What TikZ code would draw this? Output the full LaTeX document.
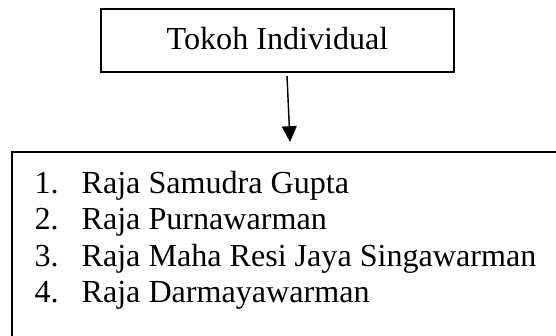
\documentclass[tikz,border=0pt]{standalone}
\usepackage{fontspec}
\setmainfont{Liberation Serif}
\usetikzlibrary{arrows.meta}
\begin{document}
\begin{tikzpicture}[x=0.38pt,y=-0.38pt,
  boxstyle/.style={draw,line width=0.65pt,rectangle,inner sep=0pt},
  itemstyle/.style={anchor=base west,inner sep=0pt,font=\fontsize{12.2pt}{14pt}\selectfont},
  arrowstyle/.style={line width=0.55pt,-{Triangle[length=6pt,width=5.6pt]}}]
\clip (0,0) rectangle (556,335);
\node[boxstyle,minimum width=134.1pt,minimum height=23.9pt,
      text height=6.46pt,text depth=0pt,font=\fontsize{12.2pt}{14pt}\selectfont]
  (title) at (277.5,40.5) {Tokoh Individual};
\node[boxstyle,minimum width=213.9pt,minimum height=75.2pt] (list) at (293.5,251) {};
\coordinate (a1) at (287,76);
\coordinate (a2) at (290,142);
\draw[arrowstyle] (a1) -- (a2);
\node[itemstyle] (i1) at (34,193) {\makebox[17.9pt][l]{1.}Raja Samudra Gupta};
\node[itemstyle] (i2) at (34,229.5) {\makebox[17.9pt][l]{2.}Raja Purnawarman};
\node[itemstyle] (i3) at (34,266) {\makebox[17.9pt][l]{3.}Raja Maha Resi Jaya Singawarman};
\node[itemstyle] (i4) at (34,302) {\makebox[17.9pt][l]{4.}Raja Darmayawarman};
\end{tikzpicture}
\end{document}
